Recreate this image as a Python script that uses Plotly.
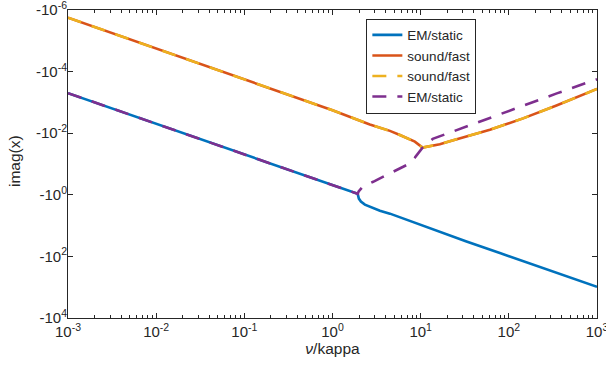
import plotly.graph_objects as go

# Damping rates (imaginary parts) of the four roots versus nu/kappa
# EM/static root that becomes strongly damped past the exceptional point
nu_em_a = [1e-3, 1e-2, 1e-1, 1.0, 1.5, 1.93, 1.99, 2.10, 2.33, 2.65, 3.45, 4.48, 7.55,
           13.9, 33.1, 79.1, 189, 451, 1000]
im_em_a = [-5e-4, -5e-3, -5e-2, -0.5, -0.75, -0.93, -1.33, -1.66, -2.08, -2.46, -3.27, -4.09, -7.05,
           -13.5, -32.7, -77.4, -184, -448, -977]

# sound/fast root (solid)
nu_sf_a = [1e-3, 1e-2, 1e-1, 1.0, 2.65, 4.48, 5.81, 7.55, 8.59, 10.5,
           11.7, 16.5, 21.4, 61, 145, 347, 1000]
im_sf_a = [-1.78e-6, -1.78e-5, -1.78e-4, -1.8e-3, -5.2e-3, -8.4e-3, -1.14e-2, -1.65e-2, -1.88e-2, -2.94e-2,
           -2.79e-2, -2.28e-2, -1.82e-2, -7.7e-3, -3.30e-3, -1.26e-3, -3.66e-4]

# sound/fast root (dashed)
nu_sf_b = list(nu_sf_a)
im_sf_b = list(im_sf_a)

# EM/static root that becomes weakly damped past the exceptional point
nu_em_b = [1e-3, 1e-2, 1e-1, 1.0, 1.5, 1.93, 1.98, 2.19, 2.89, 3.93, 5.33, 7.21, 8.59, 10.2, 10.5,
           13.7, 19.7, 25.7, 61, 144, 350, 766, 1000]
im_em_b = [-5e-4, -5e-3, -5e-2, -0.5, -0.75, -0.93, -0.78, -0.55, -0.378, -0.246, -0.157, -0.102, -0.062,
           -0.0324, -0.0294, -0.0153, -0.0104, -7.81e-3, -3.16e-3, -1.29e-3, -5.1e-4, -2.3e-4, -1.78e-4]

x_ticks = [1e-3, 1e-2, 1e-1, 1, 1e1, 1e2, 1e3]
x_ticktext = ["10<sup>-3</sup>", "10<sup>-2</sup>", "10<sup>-1</sup>", "10<sup>0</sup>",
              "10<sup>1</sup>", "10<sup>2</sup>", "10<sup>3</sup>"]
y_ticks = [1e-6, 1e-4, 1e-2, 1, 1e2, 1e4]
y_ticktext = ["-10<sup>-6</sup>", "-10<sup>-4</sup>", "-10<sup>-2</sup>", "-10<sup>0</sup>",
              "-10<sup>2</sup>", "-10<sup>4</sup>"]
x_minor = [m * 10.0 ** e for e in range(-3, 3) for m in range(2, 10)]

BLUE, ORANGE, YELLOW, PURPLE = "#0072BD", "#D95319", "#EDB120", "#7E2F8E"
AX = "#262626"
LW = 2.6
DASH = "14px,11px"

fig = go.Figure()
fig.add_trace(go.Scatter(x=nu_em_a, y=[-v for v in im_em_a], mode="lines", name="EM/static",
                         line=dict(color=BLUE, width=LW)))
fig.add_trace(go.Scatter(x=nu_sf_a, y=[-v for v in im_sf_a], mode="lines", name="sound/fast",
                         line=dict(color=ORANGE, width=LW)))
fig.add_trace(go.Scatter(x=nu_sf_b, y=[-v for v in im_sf_b], mode="lines", name="sound/fast",
                         line=dict(color=YELLOW, width=LW, dash=DASH)))
fig.add_trace(go.Scatter(x=nu_em_b, y=[-v for v in im_em_b], mode="lines", name="EM/static",
                         line=dict(color=PURPLE, width=LW, dash=DASH)))

fig.update_layout(
    width=606, height=367,
    margin=dict(l=68, r=9, t=10, b=49),
    paper_bgcolor="white", plot_bgcolor="white",
    font=dict(family="Liberation Sans, Arial, sans-serif", size=15, color=AX),
    showlegend=True,
    legend=dict(x=0.564, y=0.972, xanchor="left", yanchor="top",
                bgcolor="white", bordercolor=AX, borderwidth=1,
                font=dict(size=13.5), tracegroupgap=0),
    annotations=[dict(text="imag(x)", textangle=-90, xref="paper", yref="paper",
                      x=-0.1, y=0.51, xanchor="center", yanchor="middle",
                      showarrow=False, font=dict(size=15.5, color=AX))],
)
fig.update_xaxes(
    type="log", range=[-3, 3], automargin=False,
    tickmode="array", tickvals=x_ticks, ticktext=x_ticktext,
    ticks="inside", ticklen=5, tickwidth=1, tickcolor=AX,
    ticklabeloverflow="allow",
    minor=dict(tickmode="array", tickvals=x_minor, ticks="inside", ticklen=3, tickcolor=AX, showgrid=False),
    showline=True, linecolor=AX, linewidth=1, mirror="ticks",
    showgrid=False, zeroline=False,
    title=dict(text="<i>ν</i>/kappa", font=dict(size=15.5), standoff=4),
)
fig.update_yaxes(
    type="log", range=[4, -6], automargin=False,
    tickmode="array", tickvals=y_ticks, ticktext=y_ticktext,
    ticks="inside", ticklen=5, tickwidth=1, tickcolor=AX,
    ticklabelstandoff=-3, ticklabeloverflow="allow",
    showline=True, linecolor=AX, linewidth=1, mirror="ticks",
    showgrid=False, zeroline=False,
)

fig.write_html("out.html")
